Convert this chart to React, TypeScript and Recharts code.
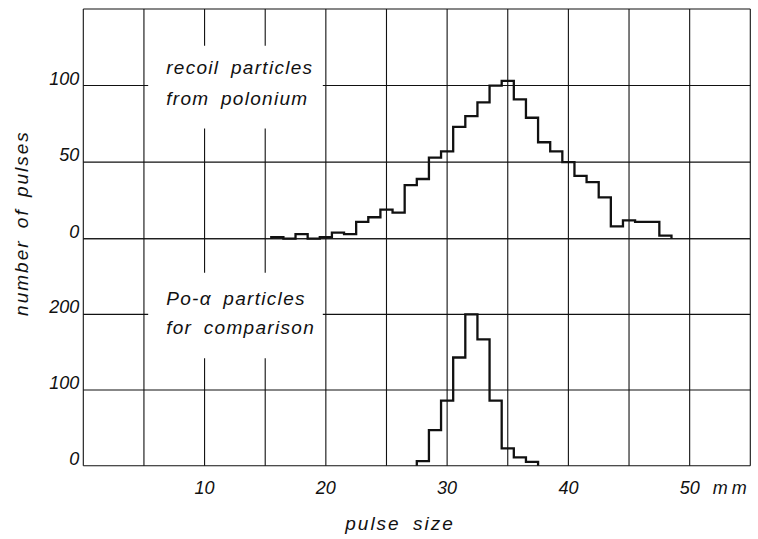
import React from 'react';
import { LineChart, Line, XAxis, YAxis, CartesianGrid, ReferenceArea } from 'recharts';

// ---- data ----
const recoilBins = [16, 17, 18, 19, 20, 21, 22, 23, 24, 25, 26, 27, 28, 29, 30, 31, 32, 33, 34, 35, 36, 37, 38, 39, 40, 41, 42, 43, 44, 45, 46, 47, 48];
const recoilCounts = [1, 0, 3, 0, 1, 4, 3, 11, 14, 19, 17, 35, 39, 53, 57, 73, 80, 89, 100, 103, 91, 79, 63, 57, 50, 41, 37, 27, 8, 12, 11, 11, 2];

const alphaBins = [28, 29, 30, 31, 32, 33, 34, 35, 36, 37];
const alphaCounts = [6, 47, 86, 143, 200, 167, 86, 23, 11, 5];

const xGridTicks = [0, 5, 10, 15, 20, 25, 30, 35, 40, 45, 50, 55];
const xLabelTicks = [10, 20, 30, 40, 50];
const xUnit = 'mm';

const recoilGridTicks = [0, 50, 100, 150];
const recoilLabelTicks = [0, 50, 100];
const alphaGridTicks = [0, 100, 200, 300];
const alphaLabelTicks = [0, 100, 200];

const recoilTitle = ['recoil particles', 'from polonium'];
const alphaTitle = ['Po-α particles', 'for comparison'];
const yTitle = 'number of pulses';
const xTitle = 'pulse size';

// histogram outline points (bin edges) built from the bins
function toSteps(bins: number[], counts: number[]) {
  const pts: { x: number; y: number }[] = [{ x: bins[0] - 0.5, y: 0 }];
  bins.forEach((b, i) => pts.push({ x: b - 0.5, y: counts[i] }));
  pts.push({ x: bins[bins.length - 1] + 0.5, y: 0 });
  return pts;
}
const recoilSteps = toSteps(recoilBins, recoilCounts);
const alphaSteps = toSteps(alphaBins, alphaCounts);

const FONT = '"Liberation Sans", Arial, sans-serif';
const INK = '#111';

const makeYTick = (labels: number[]) => (props: any) => {
  const { x, y, payload } = props;
  if (!labels.includes(payload.value)) return <g />;
  return (
    <text x={x} y={y - 1} textAnchor="end" fontFamily={FONT} fontStyle="italic" fontSize={18} fill={INK}>
      {payload.value}
    </text>
  );
};

const XTick = (props: any) => {
  const { x, y, payload } = props;
  if (!xLabelTicks.includes(payload.value)) return <g />;
  const isLast = payload.value === xLabelTicks[xLabelTicks.length - 1];
  return (
    <g>
      <text x={x} y={y + 26} textAnchor="middle" fontFamily={FONT} fontStyle="italic" fontSize={18} fill={INK}>
        {payload.value}
      </text>
      {isLast && (
        <text x={x + 23} y={y + 26} textAnchor="start" fontFamily={FONT} fontStyle="italic" fontSize={18} letterSpacing={4} fill={INK}>
          {xUnit}
        </text>
      )}
    </g>
  );
};

const makeBoxLabel = (lines: string[], d1: number, d2: number) => (props: any) => {
  const vb = props.viewBox || {};
  return (
    <g>
      {lines.map((t, i) => (
        <text key={i} x={vb.x + 18} y={vb.y + (i === 0 ? d1 : d2)} fontFamily={FONT} fontStyle="italic" fontSize={19} letterSpacing={1.3} wordSpacing={5} fill={INK}>
          {t}
        </text>
      ))}
    </g>
  );
};

const W = 758;

export default function App() {
  return (
    <div style={{ position: 'absolute', left: 0, top: 0, width: W, height: 539, background: '#fff' }}>
      <div style={{ position: 'absolute', left: 0, top: 0 }}>
        <LineChart width={W} height={252} data={recoilSteps} margin={{ top: 9, right: 7.7, bottom: 13.3, left: 0 }}>
          <CartesianGrid stroke={INK} strokeWidth={1.1} />
          <XAxis type="number" dataKey="x" domain={[0, 55]} ticks={xGridTicks} hide allowDataOverflow />
          <YAxis type="number" domain={[0, 150]} ticks={recoilGridTicks} width={83.3} axisLine={false} tickLine={false} tickSize={0} tickMargin={4} tick={makeYTick(recoilLabelTicks)} interval={0} />
          <ReferenceArea x1={5.35} x2={19.75} y1={72} y2={126} fill="#fff" fillOpacity={1} stroke="none" label={makeBoxLabel(recoilTitle, 28, 59)} />
          <Line type="stepAfter" dataKey="y" stroke={INK} strokeWidth={2.3} dot={false} isAnimationActive={false} />
        </LineChart>
      </div>
      <div style={{ position: 'absolute', left: 0, top: 230 }}>
        <LineChart width={W} height={309} data={alphaSteps} margin={{ top: 8.7, right: 7.7, bottom: 43.3, left: 0 }}>
          <CartesianGrid stroke={INK} strokeWidth={1.1} />
          <XAxis type="number" dataKey="x" domain={[0, 55]} ticks={xGridTicks} height={30} axisLine={false} tickLine={false} tickSize={0} tick={XTick} interval={0} />
          <YAxis type="number" domain={[0, 300]} ticks={alphaGridTicks} width={83.3} axisLine={false} tickLine={false} tickSize={0} tickMargin={4} tick={makeYTick(alphaLabelTicks)} interval={0} />
          <ReferenceArea x1={5.35} x2={19.75} y1={142} y2={255} fill="#fff" fillOpacity={1} stroke="none" label={makeBoxLabel(alphaTitle, 32, 61)} />
          <Line type="stepAfter" dataKey="y" stroke={INK} strokeWidth={2.3} dot={false} isAnimationActive={false} />
        </LineChart>
      </div>
      <svg width={W} height={539} style={{ position: 'absolute', left: 0, top: 0, pointerEvents: 'none' }}>
        <text x={28} y={223} transform="rotate(-90 28 223)" textAnchor="middle" fontFamily={FONT} fontStyle="italic" fontSize={19} letterSpacing={2} wordSpacing={4} fill={INK}>
          {yTitle}
        </text>
        <text x={400} y={530} textAnchor="middle" fontFamily={FONT} fontStyle="italic" fontSize={19} letterSpacing={2} wordSpacing={5} fill={INK}>
          {xTitle}
        </text>
      </svg>
    </div>
  );
}
